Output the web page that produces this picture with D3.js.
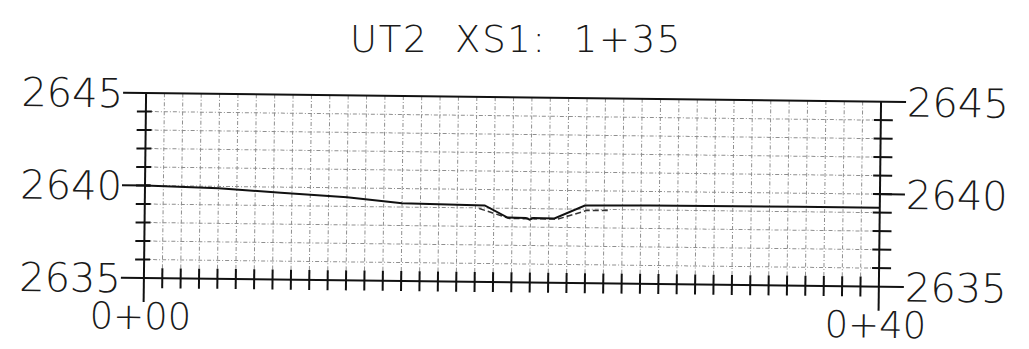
<!DOCTYPE html>
<html>
<head>
<meta charset="utf-8">
<script src="https://cdn.jsdelivr.net/npm/d3@7"></script>
<style>
  html, body { margin: 0; padding: 0; background: #fff; }
  svg { display: block; }
  text { font-family: "DejaVu Sans", sans-serif; font-weight: 200; fill: #1a1a1a; }
</style>
</head>
<body>
<script>
// Cross-section UT2 XS1 at station 1+35
const chartTitle = "UT2 XS1: 1+35";

const stationDomain = [0, 40];
const elevationDomain = [2635, 2645];

// Major axis labels
const elevationLabels = [2635, 2640, 2645];
const stationLabelValues = [0, 40];
const stationLabelText = ["0+00", "0+40"];

// Existing ground (solid)
const existingStation = [0, 4, 7.4, 11, 14, 18.5, 19.75, 20.75, 20.95, 21.15, 22.3, 23.95, 27.5, 35.6, 40];
const existingElev    = [2640.0, 2639.9, 2639.7, 2639.5, 2639.2, 2639.14, 2638.5, 2638.49, 2638.4, 2638.49, 2638.48, 2639.2, 2639.24, 2639.27, 2639.27];

// Proposed channel (dashed)
const proposedStation = [18.2, 19.85, 20.8, 21.0, 21.2, 22.5, 24.05, 25.2];
const proposedElev    = [2638.97, 2638.45, 2638.45, 2638.53, 2638.45, 2638.45, 2638.93, 2638.94];

const W = 1029, H = 349;
const svg = d3.select("body").append("svg").attr("width", W).attr("height", H);

const x = d3.scaleLinear().domain(stationDomain).range([145, 880]);
const y = d3.scaleLinear().domain(elevationDomain).range([278, 93]);

svg.append("text")
  .attr("x", 516).attr("y", 52)
  .attr("text-anchor", "middle")
  .attr("font-size", 37)
  .attr("letter-spacing", 1.7)
  .attr("xml:space", "preserve")
  .text(chartTitle.replace(/ /g, "\u00a0\u00a0"));

// The sheet is plotted slightly skewed; the whole frame turns about the 2640 mark.
const g = svg.append("g")
  .attr("transform", `rotate(0.676, ${x(0)}, ${y(2640)})`);

const minorStations = d3.range(stationDomain[0] + 1, stationDomain[1]);
const minorElevs = d3.range(elevationDomain[0] + 1, elevationDomain[1]);

// Grid
const grid = g.append("g")
  .attr("stroke", "#8f8f8f")
  .attr("stroke-width", 1)
  .attr("stroke-dasharray", "4,2,1,2");
grid.selectAll("line.v").data(minorStations).join("line")
  .attr("x1", d => x(d)).attr("x2", d => x(d))
  .attr("y1", y(elevationDomain[1])).attr("y2", y(elevationDomain[0]));
grid.selectAll("line.h").data(minorElevs).join("line")
  .attr("x1", x(stationDomain[0])).attr("x2", x(stationDomain[1]))
  .attr("y1", d => y(d)).attr("y2", d => y(d));

// Frame and axes
const ax = g.append("g").attr("stroke", "#111").attr("stroke-width", 2).attr("fill", "none");
// top and bottom rules run out to the labels
[elevationDomain[0], elevationDomain[1]].forEach(e => {
  ax.append("line").attr("x1", x(0) - 23).attr("x2", x(40) + 25)
    .attr("y1", y(e)).attr("y2", y(e));
});
// 2640 leaders
ax.append("line").attr("x1", x(0) - 23).attr("x2", x(0) + 5).attr("y1", y(2640)).attr("y2", y(2640));
ax.append("line").attr("x1", x(40) - 7).attr("x2", x(40) + 25).attr("y1", y(2640)).attr("y2", y(2640));
// vertical axes extend below the station line
ax.append("line").attr("x1", x(0)).attr("x2", x(0)).attr("y1", y(2645)).attr("y2", y(2635) + 24);
ax.append("line").attr("x1", x(40)).attr("x2", x(40)).attr("y1", y(2645)).attr("y2", y(2635) + 24);
// minor elevation ticks
ax.selectAll("line.ly").data(minorElevs).join("line")
  .attr("x1", x(0) - 9).attr("x2", x(0) + 6)
  .attr("y1", d => y(d)).attr("y2", d => y(d));
ax.selectAll("line.ry").data(minorElevs).join("line")
  .attr("x1", x(40) - 7).attr("x2", x(40) + 12)
  .attr("y1", d => y(d)).attr("y2", d => y(d));
// station ticks
ax.selectAll("line.sx").data(minorStations).join("line")
  .attr("x1", d => x(d)).attr("x2", d => x(d))
  .attr("y1", y(2635) - 10).attr("y2", y(2635) + 10);

// Labels
const lab = g.append("g").attr("font-size", 40);
lab.selectAll("text.l").data(elevationLabels).join("text")
  .attr("x", x(0) - 23).attr("y", d => y(d) + 14.5)
  .attr("text-anchor", "end").text(d => d);
lab.selectAll("text.r").data(elevationLabels).join("text")
  .attr("x", x(40) + 26).attr("y", d => y(d) + 14.5)
  .attr("text-anchor", "start").text(d => d);
lab.selectAll("text.s").data(stationLabelValues).join("text")
  .attr("x", d => x(d) - 3).attr("y", y(2635) + 51)
  .attr("font-size", 37)
  .attr("text-anchor", "middle").text((d, i) => stationLabelText[i]);

// Profiles
const profile = d3.line().x(d => x(d[0])).y(d => y(d[1]));
g.append("path")
  .datum(d3.zip(proposedStation, proposedElev))
  .attr("d", profile)
  .attr("fill", "none").attr("stroke", "#333").attr("stroke-width", 1.5)
  .attr("stroke-dasharray", "6,3");
g.append("path")
  .datum(d3.zip(existingStation, existingElev))
  .attr("d", profile)
  .attr("fill", "none").attr("stroke", "#111").attr("stroke-width", 2);
</script>
</body>
</html>
